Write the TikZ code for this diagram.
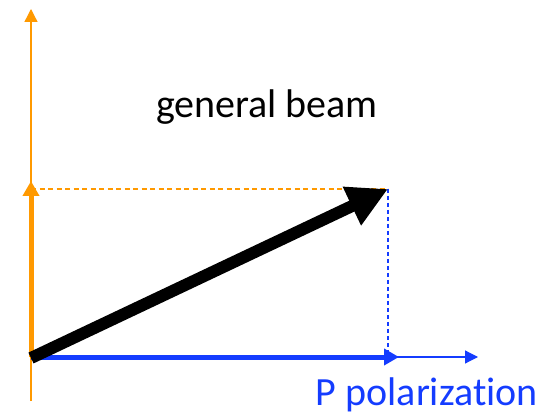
\documentclass[tikz,border=0pt]{standalone}
\usepackage{fontspec}
\setmainfont[Ligatures=NoCommon]{Carlito}
\usepackage{tikz}
\usetikzlibrary{arrows.meta}
\definecolor{beamorange}{RGB}{255,153,0}
\definecolor{beamblue}{RGB}{20,60,255}

\begin{document}
\begin{tikzpicture}[x=1pt,y=-1pt,>=Triangle,
  axisline/.style={line width=1.3pt,-{Triangle[length=13pt,width=13pt]}},
  compline/.style={line width=5pt,-{Triangle[length=15pt,width=16pt]}},
  guideline/.style={line width=1.2pt,dash pattern=on 5pt off 3.5pt},
  biglabel/.style={font=\fontsize{40}{46}\selectfont,inner sep=0pt}]
\useasboundingbox (0,0) rectangle (543,419);
\coordinate (o) at (31,357);
\coordinate (ytop) at (31,9);
\coordinate (ybot) at (31,401);
\coordinate (xend) at (478,357);
\coordinate (scomp) at (31,181);
\coordinate (pcomp) at (399,357);
\coordinate (beamtip) at (388,189);
\coordinate (scorner) at (31,189);
\coordinate (pcorner) at (388,357);
% axes
\draw[axisline,beamorange] (ybot) -- (ytop);
\draw[axisline,beamblue,line width=1.2pt] (o) -- (xend);
% projections
\draw[guideline,beamorange] (scorner) -- (beamtip);
\draw[guideline,beamblue,dash pattern=on 4pt off 3pt] (beamtip) -- (pcorner);
% components
\draw[compline,beamorange] (o) -- (scomp);
\draw[compline,beamblue] (o) -- (pcomp);
% beam vector
\draw[line width=12pt,-{Triangle[length=40pt,width=40pt]}] ([yshift=-1pt]o) -- (beamtip);
\node[biglabel] (beam) at (267,107) {general beam};
\node[biglabel,text=beamblue,anchor=base east] (plabel) at (538,405) {P polarization};
\end{tikzpicture}
\end{document}
